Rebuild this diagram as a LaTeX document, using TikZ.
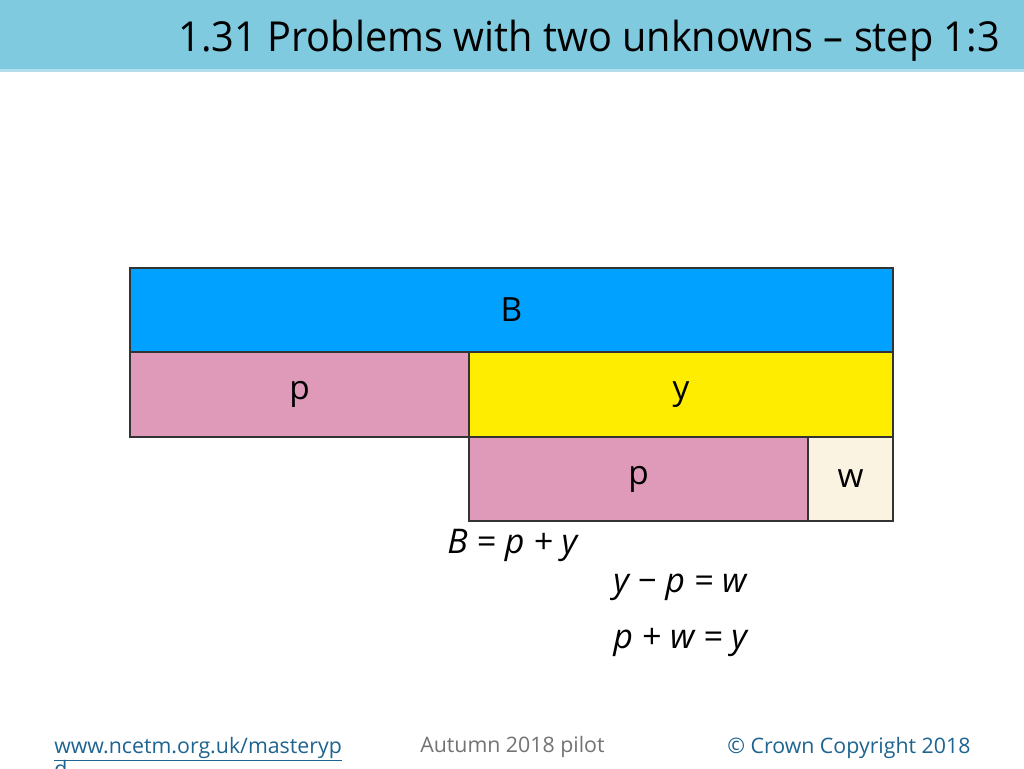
\documentclass[tikz,border=0pt]{standalone}
\usepackage{fontspec}
\setmainfont{Open Sans}
\begin{document}
\begin{tikzpicture}[x=0.75pt,y=-0.75pt,
  bar/.style={draw=black!80,line width=0.9pt},
  lbl/.style={font=\fontsize{25}{29}\selectfont,text=black},
  eq/.style={font=\fontsize{25.5}{30}\selectfont\itshape,anchor=base west,inner sep=0pt},
  foot/.style={font=\fontsize{16}{19}\selectfont,anchor=base west,inner sep=0pt}]
\definecolor{titlebg}{RGB}{128,202,223}
\definecolor{bblue}{RGB}{0,161,255}
\definecolor{ppink}{RGB}{222,154,184}
\definecolor{yyell}{RGB}{255,237,0}
\definecolor{wcream}{RGB}{250,243,225}
\definecolor{linkc}{RGB}{30,100,145}
\useasboundingbox (0,0) rectangle (1024,768);
\fill[white] (0,0) rectangle (1024,768);
\fill[titlebg] (0,0) rectangle (1024,70);
\fill[titlebg!60] (0,69) rectangle (1024,72);
\node[font=\fontsize{31}{36}\selectfont,anchor=base east,inner sep=0pt] (title) at (1000,51) {\scalebox{0.96}[1]{1.31 Problems with two unknowns – step 1:3}};
% bars
\draw[bar,fill=bblue] (130,268) rectangle (893,352);
\node[lbl] (B) at (511.5,310) {B};
\draw[bar,fill=ppink] (130,352) rectangle (469,437);
\node[lbl] (p1) at (299.5,394.5) {p};
\draw[bar,fill=yyell] (469,352) rectangle (893,437);
\node[lbl] (y) at (681,394.5) {y};
\draw[bar,fill=ppink] (469,437) rectangle (808,521);
\node[lbl] (p2) at (638.5,479) {p};
\draw[bar,fill=wcream] (808,437) rectangle (893,521);
\node[lbl] (w) at (850.5,479) {w};
% equations
\node[eq] (e1) at (447,553) {B = p + y};
\node[eq] (e2) at (613,592) {y − p = w};
\node[eq] (e3) at (613,648) {p + w = y};
% footer
\node[foot,text=linkc] (link) at (54,753) {\underline{www.ncetm.org.uk/masteryp}};
\node[foot,text=linkc] (link2) at (54,776) {\underline{d}};
\node[foot,text=black!55] (aut) at (420,752) {Autumn 2018 pilot};
\node[foot,text=linkc] (copy) at (727,753) {© Crown Copyright 2018};
\end{tikzpicture}
\end{document}
